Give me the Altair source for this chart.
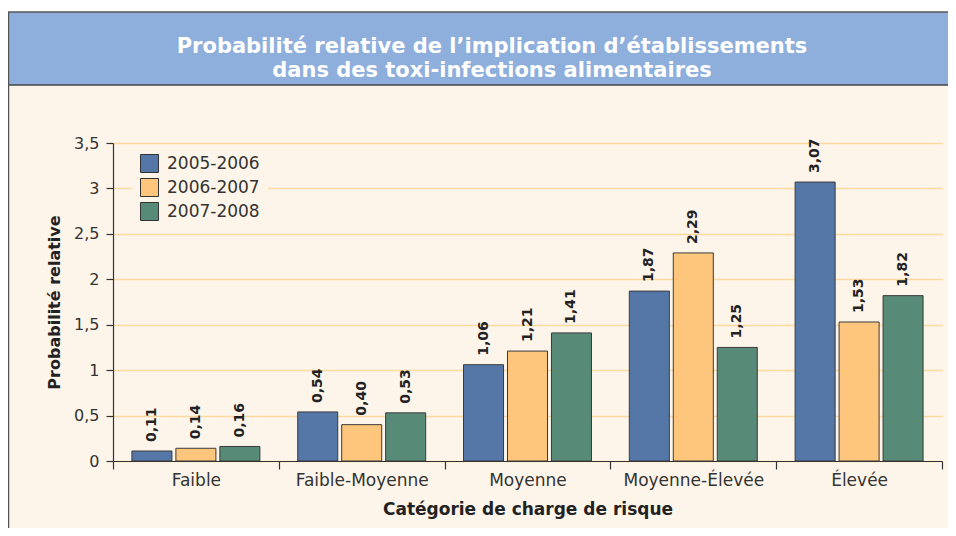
import altair as alt
import pandas as pd

# ---- data ----
categories = ["Faible", "Faible-Moyenne", "Moyenne", "Moyenne-Élevée", "Élevée"]
periods = ["2005-2006", "2006-2007", "2007-2008"]
v_2005_2006 = [0.11, 0.54, 1.06, 1.87, 3.07]
v_2006_2007 = [0.14, 0.40, 1.21, 2.29, 1.53]
v_2007_2008 = [0.16, 0.53, 1.41, 1.25, 1.82]
colors = ["#5577A7", "#FEC67D", "#588A78"]
y_ticks = [0, 0.5, 1, 1.5, 2, 2.5, 3, 3.5]
title_lines = ["Probabilité relative de l’implication d’établissements",
               "dans des toxi-infections alimentaires"]
y_title = "Probabilité relative"
x_title = "Catégorie de charge de risque"

rows = []
for p, vals in zip(periods, [v_2005_2006, v_2006_2007, v_2007_2008]):
    for c, v in zip(categories, vals):
        rows.append({"category": c, "period": p, "value": v,
                     "label": f"{v:.2f}".replace(".", ",")})
df = pd.DataFrame(rows)

FONT = "DejaVu Sans"
CREAM = "#FEF5EA"
W, H = 829, 318
PL, PT, PR, PB = 105, 135, 6, 67
TOTAL_W = PL + W + PR

one = pd.DataFrame({"d": [0]})

# ---- decorations (banner) ----
white_top = alt.Chart(one).mark_rect(fill="white").encode(
    x=alt.value(-PL), x2=alt.value(TOTAL_W - PL), y=alt.value(-PT), y2=alt.value(-131))
banner = alt.Chart(one).mark_rect(fill="#8EAEDC").encode(
    x=alt.value(-PL), x2=alt.value(TOTAL_W - PL), y=alt.value(-131), y2=alt.value(-58))
banner_top = alt.Chart(one).mark_rule(color="#555555", strokeWidth=1.5).encode(
    x=alt.value(-PL), x2=alt.value(TOTAL_W - PL), y=alt.value(-131))
banner_bot = alt.Chart(one).mark_rule(color="#444444", strokeWidth=1.5).encode(
    x=alt.value(-PL), x2=alt.value(TOTAL_W - PL), y=alt.value(-58))
left_border = alt.Chart(one).mark_rule(color="#555555", strokeWidth=1.5).encode(
    x=alt.value(-PL + 0.5), y=alt.value(-131), y2=alt.value(H + PB))
t1 = alt.Chart(one).mark_text(font=FONT, fontSize=21, fontWeight="bold", color="white",
                              align="center", baseline="middle").encode(
    x=alt.value(379), y=alt.value(-96), text=alt.value(title_lines[0]))
t2 = alt.Chart(one).mark_text(font=FONT, fontSize=21, fontWeight="bold", color="white",
                              align="center", baseline="middle").encode(
    x=alt.value(379), y=alt.value(-72), text=alt.value(title_lines[1]))

# ---- main chart ----
base = alt.Chart(df).encode(
    x=alt.X("category:N", sort=categories,
            scale=alt.Scale(paddingInner=0, paddingOuter=0),
            axis=alt.Axis(title=x_title, labelAngle=0, tickBand="extent", tickSize=8,
                          tickColor="#333333", tickWidth=1.2, domainColor="#333333",
                          domainWidth=1.2, labelFont=FONT, labelFontSize=17,
                          labelColor="#333333", labelPadding=3, grid=False,
                          titleFont=FONT, titleFontSize=17, titleFontWeight="bold",
                          titleColor="#222222", titlePadding=13)),
    xOffset=alt.XOffset("period:N", sort=periods,
                        scale=alt.Scale(paddingInner=0.09, paddingOuter=0.43)),
    y=alt.Y("value:Q",
            scale=alt.Scale(domain=[0, 3.5], nice=False),
            axis=alt.Axis(title=y_title, values=y_ticks,
                          labelExpr="replace(format(datum.value, '~g'), '.', ',')",
                          grid=True, gridColor="#FCD9A0", gridWidth=1.5,
                          domainColor="#333333", domainWidth=1.2,
                          tickColor="#333333", tickSize=7, tickWidth=1.2,
                          labelFont=FONT, labelFontSize=16, labelColor="#333333",
                          labelPadding=7, titleFont=FONT, titleFontSize=16,
                          titleFontWeight="bold", titleColor="#222222",
                          titlePadding=11)),
)

bars = base.mark_bar(stroke="#3a3a3a", strokeWidth=1).encode(
    color=alt.Color("period:N", sort=periods,
                    scale=alt.Scale(domain=periods, range=colors),
                    legend=alt.Legend(title=None, orient="none", legendX=19, legendY=3,
                                      fillColor=CREAM, padding=8, symbolType="square",
                                      symbolSize=324, symbolStrokeColor="#333333",
                                      symbolStrokeWidth=1, symbolOpacity=1,
                                      labelFont=FONT, labelFontSize=17,
                                      labelColor="#333333", rowPadding=1,
                                      labelOffset=8))
)

labels = base.mark_text(angle=270, align="left", baseline="middle", dx=9,
                        font=FONT, fontSize=14, fontWeight="bold",
                        color="#222222").encode(text="label:N")

chart = alt.layer(white_top, banner, banner_top, banner_bot, left_border, t1, t2,
                  bars, labels).properties(
    width=W, height=H,
    padding={"left": PL, "top": PT, "right": PR, "bottom": PB},
    autosize=alt.AutoSizeParams(type="none"),
).configure(background=CREAM).configure_view(stroke="transparent")

chart.save("out.html", embed_options={"renderer": "svg", "actions": False})
